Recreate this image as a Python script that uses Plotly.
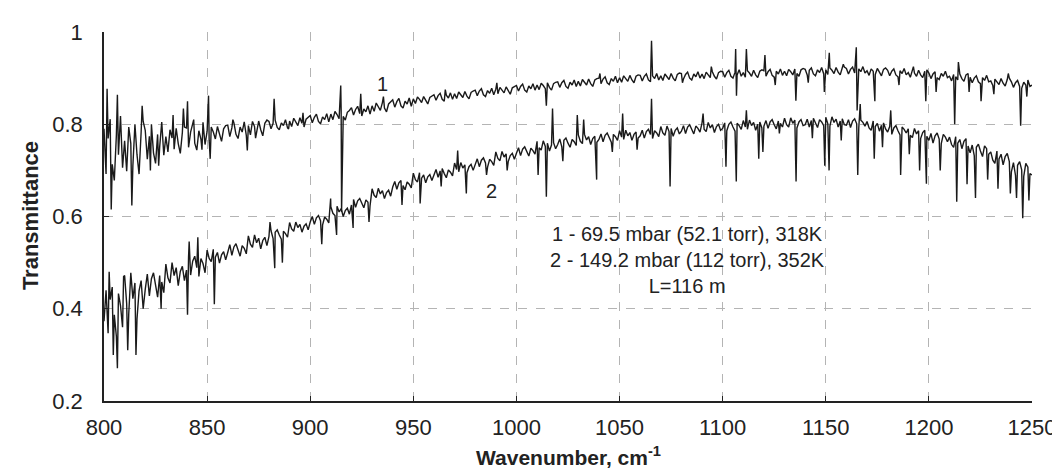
import plotly.graph_objects as go

# Base samples every 1 cm-1 from 800 to 1250 (10 values per row)
wn_start = 800
wn_step = 1

# Curve 1: 69.5 mbar (52.1 torr), 318K
t1_base = [
    0.790, 0.692, 0.769, 0.811, 0.713, 0.678, 0.776, 0.734, 0.818, 0.706,
    0.764, 0.698, 0.794, 0.758, 0.710, 0.800, 0.734, 0.692, 0.782, 0.806,
    0.787, 0.724, 0.774, 0.800, 0.738, 0.715, 0.778, 0.751, 0.805, 0.733,
    0.773, 0.740, 0.788, 0.770, 0.746, 0.791, 0.758, 0.737, 0.782, 0.794,
    0.792, 0.750, 0.783, 0.801, 0.759, 0.744, 0.786, 0.768, 0.804, 0.756,
    0.785, 0.765, 0.794, 0.783, 0.768, 0.795, 0.776, 0.763, 0.790, 0.797,
    0.798, 0.773, 0.792, 0.803, 0.778, 0.769, 0.794, 0.783, 0.805, 0.776,
    0.797, 0.777, 0.806, 0.795, 0.780, 0.807, 0.788, 0.775, 0.802, 0.809,
    0.806, 0.790, 0.802, 0.809, 0.793, 0.788, 0.803, 0.797, 0.810, 0.792,
    0.807, 0.795, 0.813, 0.806, 0.797, 0.814, 0.802, 0.794, 0.811, 0.815,
    0.819, 0.803, 0.815, 0.822, 0.806, 0.801, 0.816, 0.810, 0.823, 0.805,
    0.822, 0.810, 0.828, 0.821, 0.812, 0.829, 0.817, 0.809, 0.826, 0.830,
    0.836, 0.820, 0.832, 0.839, 0.823, 0.818, 0.833, 0.827, 0.840, 0.822,
    0.840, 0.828, 0.846, 0.839, 0.830, 0.847, 0.835, 0.827, 0.844, 0.848,
    0.853, 0.837, 0.849, 0.856, 0.840, 0.835, 0.850, 0.844, 0.857, 0.839,
    0.855, 0.845, 0.859, 0.854, 0.847, 0.860, 0.850, 0.844, 0.858, 0.861,
    0.864, 0.852, 0.862, 0.867, 0.854, 0.850, 0.863, 0.857, 0.868, 0.854,
    0.866, 0.856, 0.870, 0.865, 0.858, 0.871, 0.861, 0.855, 0.869, 0.872,
    0.874, 0.862, 0.872, 0.877, 0.864, 0.860, 0.873, 0.867, 0.878, 0.864,
    0.876, 0.866, 0.880, 0.875, 0.868, 0.881, 0.871, 0.865, 0.879, 0.882,
    0.884, 0.872, 0.882, 0.887, 0.874, 0.870, 0.883, 0.877, 0.888, 0.874,
    0.885, 0.875, 0.889, 0.884, 0.877, 0.890, 0.880, 0.874, 0.888, 0.891,
    0.892, 0.880, 0.890, 0.895, 0.882, 0.878, 0.891, 0.885, 0.896, 0.882,
    0.893, 0.883, 0.897, 0.892, 0.885, 0.898, 0.888, 0.882, 0.896, 0.899,
    0.900, 0.888, 0.898, 0.903, 0.890, 0.886, 0.899, 0.893, 0.904, 0.890,
    0.901, 0.891, 0.905, 0.900, 0.893, 0.906, 0.896, 0.890, 0.904, 0.907,
    0.906, 0.894, 0.904, 0.909, 0.896, 0.892, 0.905, 0.899, 0.910, 0.896,
    0.905, 0.895, 0.909, 0.904, 0.897, 0.910, 0.900, 0.894, 0.908, 0.911,
    0.910, 0.898, 0.908, 0.913, 0.900, 0.896, 0.909, 0.903, 0.914, 0.900,
    0.909, 0.899, 0.913, 0.908, 0.901, 0.914, 0.904, 0.898, 0.912, 0.915,
    0.914, 0.902, 0.912, 0.917, 0.904, 0.900, 0.913, 0.907, 0.918, 0.904,
    0.912, 0.902, 0.916, 0.911, 0.904, 0.917, 0.907, 0.901, 0.915, 0.918,
    0.916, 0.904, 0.914, 0.919, 0.906, 0.902, 0.915, 0.909, 0.920, 0.906,
    0.915, 0.905, 0.919, 0.914, 0.907, 0.920, 0.910, 0.904, 0.918, 0.921,
    0.919, 0.907, 0.917, 0.922, 0.909, 0.905, 0.918, 0.912, 0.923, 0.909,
    0.918, 0.908, 0.922, 0.917, 0.910, 0.923, 0.913, 0.907, 0.921, 0.924,
    0.921, 0.909, 0.919, 0.924, 0.911, 0.907, 0.920, 0.914, 0.925, 0.911,
    0.916, 0.906, 0.920, 0.915, 0.908, 0.921, 0.911, 0.905, 0.919, 0.922,
    0.917, 0.905, 0.915, 0.920, 0.907, 0.903, 0.916, 0.910, 0.921, 0.907,
    0.912, 0.902, 0.916, 0.911, 0.904, 0.917, 0.907, 0.901, 0.915, 0.918,
    0.911, 0.899, 0.909, 0.914, 0.901, 0.897, 0.910, 0.904, 0.915, 0.901,
    0.904, 0.894, 0.908, 0.903, 0.896, 0.909, 0.899, 0.893, 0.907, 0.910,
    0.902, 0.890, 0.900, 0.905, 0.892, 0.888, 0.901, 0.895, 0.906, 0.892,
    0.894, 0.884, 0.898, 0.893, 0.886, 0.899, 0.889, 0.883, 0.897, 0.900,
    0.892, 0.880, 0.890, 0.895, 0.882, 0.878, 0.891, 0.885, 0.896, 0.882,
    0.885,
]

# Curve 1 narrow lines / spikes (wavenumber, transmittance)
t1_spike_wn = [801.5, 803.5, 806.5, 813.5, 818.5, 822.5, 826.5, 833.5, 838.5, 840.5, 843.5,
               847.5, 850.7, 851.5, 862.5, 869.5, 873.5, 882.5, 889.5, 896.5, 914.8, 915.2,
               924.5, 935.5, 965.5, 990.5, 1014.5, 1040.5, 1065.5, 1080.5, 1094.5, 1106.3,
               1106.7, 1111.5, 1120.5, 1125.5, 1135.5, 1141.5, 1149.3, 1151.7, 1158.5,
               1164.8, 1165.2, 1173.8, 1185.5, 1192.5, 1198.5, 1203.5, 1212.5, 1214.3,
               1219.5, 1225.3, 1231.5, 1238.5, 1244.5, 1247.5]
t1_spike_val = [0.877, 0.615, 0.864, 0.624, 0.84, 0.70, 0.71, 0.82, 0.834, 0.85, 0.81,
                0.745, 0.862, 0.725, 0.81, 0.743, 0.77, 0.855, 0.79, 0.825, 0.884, 0.61,
                0.866, 0.86, 0.875, 0.89, 0.84, 0.91, 0.981, 0.89, 0.925, 0.963,
                0.862, 0.963, 0.95, 0.885, 0.851, 0.89, 0.87, 0.955, 0.93,
                0.967, 0.83, 0.85, 0.885, 0.925, 0.85, 0.87, 0.80, 0.935,
                0.87, 0.85, 0.865, 0.91, 0.797, 0.86]

# Curve 2: 149.2 mbar (112 torr), 352K
t2_base = [
    0.373, 0.440, 0.347, 0.420, 0.447, 0.387, 0.340, 0.433, 0.407, 0.360,
    0.472, 0.411, 0.389, 0.478, 0.422, 0.456, 0.378, 0.439, 0.461, 0.400,
    0.442, 0.475, 0.428, 0.465, 0.478, 0.448, 0.425, 0.472, 0.458, 0.435,
    0.497, 0.467, 0.456, 0.500, 0.472, 0.489, 0.450, 0.481, 0.492, 0.461,
    0.484, 0.512, 0.473, 0.503, 0.514, 0.489, 0.470, 0.509, 0.498, 0.478,
    0.527, 0.509, 0.502, 0.529, 0.512, 0.522, 0.499, 0.517, 0.524, 0.506,
    0.522, 0.539, 0.516, 0.534, 0.541, 0.526, 0.514, 0.537, 0.531, 0.519,
    0.558, 0.540, 0.533, 0.560, 0.543, 0.553, 0.530, 0.548, 0.555, 0.537,
    0.557, 0.569, 0.552, 0.566, 0.571, 0.560, 0.551, 0.568, 0.563, 0.555,
    0.587, 0.573, 0.568, 0.588, 0.576, 0.583, 0.566, 0.579, 0.584, 0.571,
    0.588, 0.600, 0.583, 0.597, 0.602, 0.591, 0.582, 0.599, 0.594, 0.586,
    0.621, 0.607, 0.602, 0.622, 0.610, 0.617, 0.600, 0.613, 0.618, 0.605,
    0.625, 0.637, 0.620, 0.634, 0.639, 0.628, 0.619, 0.636, 0.631, 0.623,
    0.660, 0.646, 0.641, 0.661, 0.649, 0.656, 0.639, 0.652, 0.657, 0.644,
    0.664, 0.676, 0.659, 0.673, 0.678, 0.667, 0.658, 0.675, 0.670, 0.662,
    0.694, 0.680, 0.675, 0.695, 0.683, 0.690, 0.673, 0.686, 0.691, 0.678,
    0.690, 0.702, 0.685, 0.699, 0.704, 0.693, 0.684, 0.701, 0.696, 0.688,
    0.716, 0.702, 0.697, 0.717, 0.705, 0.712, 0.695, 0.708, 0.713, 0.700,
    0.713, 0.725, 0.708, 0.722, 0.727, 0.716, 0.707, 0.724, 0.719, 0.711,
    0.740, 0.726, 0.721, 0.741, 0.729, 0.736, 0.719, 0.732, 0.737, 0.724,
    0.737, 0.749, 0.732, 0.746, 0.751, 0.740, 0.731, 0.748, 0.743, 0.735,
    0.763, 0.749, 0.744, 0.764, 0.752, 0.759, 0.742, 0.755, 0.760, 0.747,
    0.756, 0.768, 0.751, 0.765, 0.770, 0.759, 0.750, 0.767, 0.762, 0.754,
    0.777, 0.763, 0.758, 0.778, 0.766, 0.773, 0.756, 0.769, 0.774, 0.761,
    0.767, 0.779, 0.762, 0.776, 0.781, 0.770, 0.761, 0.778, 0.773, 0.765,
    0.786, 0.772, 0.767, 0.787, 0.775, 0.782, 0.765, 0.778, 0.783, 0.770,
    0.775, 0.787, 0.770, 0.784, 0.789, 0.778, 0.769, 0.786, 0.781, 0.773,
    0.795, 0.781, 0.776, 0.796, 0.784, 0.791, 0.774, 0.787, 0.792, 0.779,
    0.785, 0.797, 0.780, 0.794, 0.799, 0.788, 0.779, 0.796, 0.791, 0.783,
    0.803, 0.789, 0.784, 0.804, 0.792, 0.799, 0.782, 0.795, 0.800, 0.787,
    0.791, 0.803, 0.786, 0.800, 0.805, 0.794, 0.785, 0.802, 0.797, 0.789,
    0.808, 0.794, 0.789, 0.809, 0.797, 0.804, 0.787, 0.800, 0.805, 0.792,
    0.796, 0.808, 0.791, 0.805, 0.810, 0.799, 0.790, 0.807, 0.802, 0.794,
    0.813, 0.799, 0.794, 0.814, 0.802, 0.809, 0.792, 0.805, 0.810, 0.797,
    0.799, 0.811, 0.794, 0.808, 0.813, 0.802, 0.793, 0.810, 0.805, 0.797,
    0.815, 0.801, 0.796, 0.816, 0.804, 0.811, 0.794, 0.807, 0.812, 0.799,
    0.798, 0.810, 0.793, 0.807, 0.812, 0.801, 0.792, 0.809, 0.804, 0.796,
    0.806, 0.792, 0.787, 0.807, 0.795, 0.802, 0.785, 0.798, 0.803, 0.790,
    0.783, 0.795, 0.778, 0.792, 0.797, 0.786, 0.777, 0.794, 0.789, 0.781,
    0.790, 0.776, 0.771, 0.791, 0.779, 0.786, 0.769, 0.782, 0.787, 0.774,
    0.765, 0.780, 0.759, 0.775, 0.781, 0.768, 0.758, 0.778, 0.772, 0.762,
    0.772, 0.756, 0.750, 0.773, 0.759, 0.767, 0.747, 0.763, 0.769, 0.753,
    0.738, 0.755, 0.732, 0.750, 0.757, 0.742, 0.730, 0.753, 0.747, 0.735,
    0.740, 0.722, 0.715, 0.742, 0.725, 0.735, 0.712, 0.730, 0.737, 0.719,
    0.697, 0.717, 0.689, 0.711, 0.719, 0.701, 0.687, 0.715, 0.707, 0.693,
    0.690,
]

# Curve 2 narrow lines / spikes (wavenumber, transmittance)
t2_spike_wn = [802.5, 804.5, 806.5, 809.5, 811.5, 815.5, 827.7, 840.5, 841.3, 845.5, 853.5,
               880.5, 882.8, 886.5, 905.6, 909.9, 912.8, 920.8, 928.5, 944.5, 953.3, 963.5,
               971.5, 975.7, 985.5, 995.5, 1010.5, 1014.5, 1017.5, 1022.5, 1029.5, 1032.6,
               1038.9, 1046.5, 1051.5, 1058.5, 1065.5, 1074.5, 1090.5, 1101.6, 1106.6,
               1111.5, 1117.5, 1119.5, 1127.5, 1135.6, 1143.5, 1149.5, 1151.6, 1157.5,
               1165.5, 1166.7, 1173.5, 1177.5, 1181.5, 1186.3, 1190.5, 1195.5, 1198.8,
               1205.5, 1213.5, 1218.5, 1222.6, 1228.5, 1233.5, 1239.5, 1242.5, 1245.5, 1248.5]
t2_spike_val = [0.48, 0.30, 0.271, 0.47, 0.31, 0.30, 0.40, 0.387, 0.546, 0.555, 0.41,
                0.588, 0.488, 0.50, 0.54, 0.639, 0.56, 0.575, 0.588, 0.625, 0.628, 0.665,
                0.743, 0.65, 0.69, 0.70, 0.69, 0.643, 0.834, 0.72, 0.82, 0.81,
                0.68, 0.74, 0.823, 0.745, 0.855, 0.665, 0.823, 0.708, 0.676,
                0.83, 0.725, 0.74, 0.78, 0.676, 0.77, 0.71, 0.70, 0.765,
                0.69, 0.844, 0.725, 0.75, 0.83, 0.69, 0.735, 0.70, 0.671,
                0.70, 0.632, 0.67, 0.64, 0.68, 0.66, 0.65, 0.64, 0.596, 0.635]

x_ticks = [800, 850, 900, 950, 1000, 1050, 1100, 1150, 1200, 1250]
y_ticks = [0.2, 0.4, 0.6, 0.8, 1.0]
y_tick_text = ["0.2", "0.4", "0.6", "0.8", "1"]

legend_text = ["1 - 69.5 mbar (52.1 torr), 318K",
               "2 - 149.2 mbar (112 torr), 352K",
               "L=116 m"]


def merged(base, spike_wn, spike_val):
    pts = [(wn_start + wn_step * i, v) for i, v in enumerate(base)]
    pts += list(zip(spike_wn, spike_val))
    pts.sort(key=lambda p: p[0])
    return [p[0] for p in pts], [p[1] for p in pts]


x1, y1 = merged(t1_base, t1_spike_wn, t1_spike_val)
x2, y2 = merged(t2_base, t2_spike_wn, t2_spike_val)

FONT = "Arial, Liberation Sans, Helvetica, sans-serif"
LINE = "#1a1a1a"
TXT = "#222222"

fig = go.Figure()
fig.add_trace(go.Scatter(x=x1, y=y1, mode="lines", line=dict(color=LINE, width=1.4),
                         showlegend=False, hoverinfo="skip"))
fig.add_trace(go.Scatter(x=x2, y=y2, mode="lines", line=dict(color=LINE, width=1.4),
                         showlegend=False, hoverinfo="skip"))

grid = dict(showgrid=True, gridcolor="#b4b4b4", gridwidth=1, griddash="dash")

fig.update_xaxes(range=[800, 1250], tickvals=x_ticks, ticks="inside", ticklen=5,
                 tickcolor="#222", showline=True, linecolor="#222", linewidth=1.5,
                 zeroline=False, tickfont=dict(family=FONT, size=22, color=TXT),
                 ticklabelstandoff=6, **grid)
fig.update_yaxes(range=[0.2, 1.0], tickvals=y_ticks, ticktext=y_tick_text, ticks="inside",
                 ticklen=5, tickcolor="#222", showline=True, linecolor="#222", linewidth=1.5,
                 zeroline=False, tickfont=dict(family=FONT, size=22, color=TXT),
                 ticklabelstandoff=15, **grid)

fig.add_annotation(x=935, y=0.888, text="1", showarrow=False,
                   font=dict(family=FONT, size=20, color=TXT))
fig.add_annotation(x=988, y=0.655, text="2", showarrow=False,
                   font=dict(family=FONT, size=20, color=TXT))
fig.add_annotation(x=1083, y=0.505, text="<br>".join(legend_text), showarrow=False,
                   align="center", font=dict(family=FONT, size=20, color=TXT))

fig.add_annotation(xref="paper", yref="paper", x=-74 / 937, y=0.503, text="<b>Transmittance</b>",
                   textangle=-90, showarrow=False, xanchor="center", yanchor="middle",
                   font=dict(family=FONT, size=22, color=TXT))
fig.add_annotation(xref="paper", yref="paper", x=0.5, y=-70 / 370,
                   text="<b>Wavenumber, cm<sup>-1</sup></b>", showarrow=False,
                   xanchor="center", yanchor="bottom",
                   font=dict(family=FONT, size=21, color=TXT))

fig.update_layout(width=1060, height=472, margin=dict(l=96, r=27, t=23, b=79),
                  paper_bgcolor="white", plot_bgcolor="white")

fig.write_html("out.html")
